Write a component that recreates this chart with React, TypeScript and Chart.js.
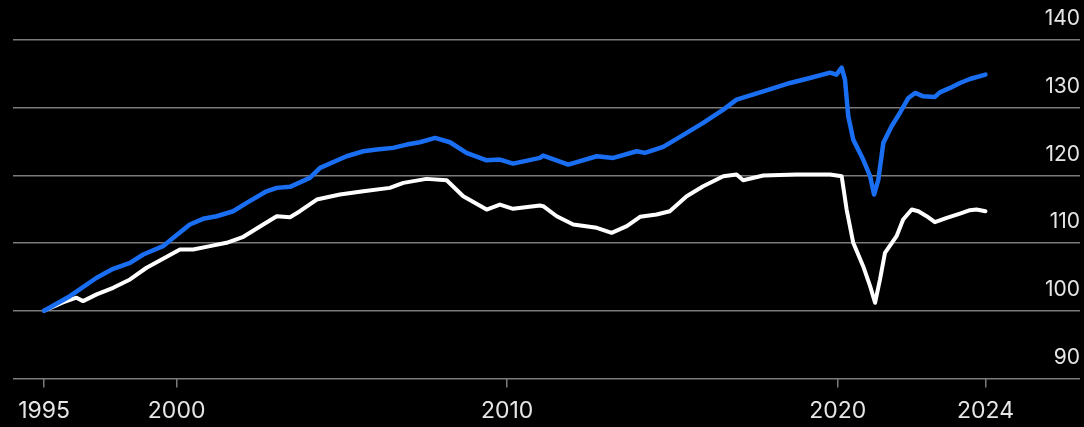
import React, { useEffect, useRef } from "react";
import { Chart, registerables } from "chart.js";

Chart.register(...registerables);

// Index, start of series = 100. Dates are decimal years.
const blueYears = [
  1995.99, 1996.77, 1997.58, 1998.08, 1998.59, 1998.99, 1999.59, 1999.9, 2000.4, 2000.8,
  2001.21, 2001.71, 2002.12, 2002.72, 2003.03, 2003.43, 2004.03, 2004.34, 2005.14, 2005.65,
  2006.05, 2006.55, 2006.96, 2007.36, 2007.82, 2008.27, 2008.77, 2009.38, 2009.78, 2010.18,
  2010.99, 2011.09, 2011.85, 2012.71, 2013.21, 2013.92, 2014.17, 2014.72, 2015.23, 2015.93,
  2016.54, 2016.94, 2017.75, 2018.56, 2019.16, 2019.77, 2019.96, 2020.12, 2020.22, 2020.32,
  2020.47, 2020.77, 2020.98, 2021.1, 2021.23, 2021.38, 2021.63, 2021.88, 2022.14, 2022.34,
  2022.59, 2022.94, 2023.09, 2023.4, 2023.7, 2024.0, 2024.47,
];
const blueValues = [
  100.0, 102.15, 104.87, 106.2, 107.08, 108.31, 109.54, 110.77, 112.74, 113.58,
  113.96, 114.7, 115.94, 117.65, 118.15, 118.3, 119.63, 121.11, 122.82, 123.56,
  123.81, 124.06, 124.55, 124.89, 125.53, 124.89, 123.32, 122.23, 122.33, 121.74,
  122.58, 122.92, 121.59, 122.82, 122.58, 123.56, 123.32, 124.21, 125.68, 127.75,
  129.71, 131.19, 132.41, 133.65, 134.39, 135.17, 134.88, 135.91, 134.14, 128.72,
  125.28, 122.33, 119.87, 117.17, 119.38, 124.8, 127.25, 129.22, 131.44, 132.18,
  131.68, 131.59, 132.27, 132.92, 133.65, 134.24, 134.88,
];

const whiteYears = [
  1995.99, 1996.56, 1996.97, 1997.17, 1997.58, 1998.08, 1998.59, 1999.09, 1999.59, 2000.1,
  2000.5, 2001.01, 2001.51, 2002.02, 2002.62, 2003.03, 2003.43, 2003.73, 2004.24, 2004.94,
  2005.65, 2006.45, 2006.86, 2007.56, 2008.17, 2008.67, 2009.38, 2009.78, 2010.18, 2010.99,
  2011.09, 2011.5, 2012.0, 2012.71, 2013.16, 2013.62, 2014.02, 2014.52, 2014.92, 2015.43,
  2015.93, 2016.54, 2016.94, 2017.14, 2017.75, 2018.76, 2019.77, 2020.12, 2020.27, 2020.47,
  2020.77, 2020.98, 2021.13, 2021.28, 2021.43, 2021.78, 2021.98, 2022.24, 2022.44, 2022.69,
  2022.94, 2023.3, 2023.7, 2024.0, 2024.2, 2024.47,
];
const whiteValues = [
  100.0, 101.23, 101.92, 101.42, 102.41, 103.39, 104.62, 106.35, 107.68, 109.05,
  109.05, 109.54, 110.04, 110.92, 112.74, 113.96, 113.82, 114.7, 116.43, 117.17,
  117.65, 118.15, 118.89, 119.48, 119.28, 116.92, 114.95, 115.69, 115.06, 115.54,
  115.44, 113.96, 112.74, 112.25, 111.51, 112.49, 113.87, 114.21, 114.7, 116.92,
  118.39, 119.87, 120.12, 119.28, 119.97, 120.12, 120.12, 119.87, 114.95, 110.04,
  106.58, 103.63, 101.18, 104.62, 108.56, 111.01, 113.48, 114.95, 114.7, 113.96,
  113.08, 113.73, 114.36, 114.85, 114.95, 114.7,
];

// Axis ticks: first and last labels mark the ends of the data
const xTickValues = [blueYears[0], 2000, 2010, 2020, blueYears[blueYears.length - 1]];
const xTickLabels = ["1995", "2000", "2010", "2020", "2024"];
const yTickValues = [90, 100, 110, 120, 130, 140];

const GRID = "#7b7b7b";
const TEXT = "#e6e6e6";

export default function App() {
  const canvasRef = useRef<HTMLCanvasElement | null>(null);

  useEffect(() => {
    document.body.style.margin = "0";
    document.body.style.background = "#000";
    const canvas = canvasRef.current;
    if (!canvas) return;

    const chart = new Chart(canvas, {
      type: "line",
      data: {
        datasets: [
          {
            data: blueYears.map((x, i) => ({ x, y: blueValues[i] })),
            borderColor: "#1a6ef2",
            borderWidth: 4.5,
            pointRadius: 0,
            tension: 0,
            borderJoinStyle: "round",
            borderCapStyle: "round",
          },
          {
            data: whiteYears.map((x, i) => ({ x, y: whiteValues[i] })),
            borderColor: "#ffffff",
            borderWidth: 4,
            pointRadius: 0,
            tension: 0,
            borderJoinStyle: "round",
            borderCapStyle: "round",
          },
        ],
      },
      options: {
        animation: false,
        responsive: false,
        maintainAspectRatio: false,
        events: [],
        layout: { padding: { left: 13, right: 4, top: 40, bottom: -8 } },
        plugins: { legend: { display: false }, tooltip: { enabled: false } },
        scales: {
          x: {
            type: "linear",
            min: 1995.05,
            max: 2027.33,
            border: { display: false },
            grid: {
              drawOnChartArea: false,
              drawTicks: true,
              tickLength: 9,
              color: GRID,
              lineWidth: 1.5,
            },
            afterBuildTicks: (scale: any) => {
              scale.ticks = xTickValues.map((value) => ({ value }));
            },
            ticks: {
              autoSkip: false,
              maxRotation: 0,
              padding: 10,
              color: TEXT,
              font: { family: "Inter", size: 23 },
              callback: (_v: any, index: number) => xTickLabels[index],
            },
          },
          y: {
            type: "linear",
            position: "right",
            min: 90,
            max: 140,
            border: { display: false },
            grid: { color: GRID, lineWidth: 1.5, drawTicks: false },
            afterBuildTicks: (scale: any) => {
              scale.ticks = yTickValues.map((value) => ({ value }));
            },
            ticks: {
              mirror: true,
              padding: 0,
              labelOffset: -21,
              color: TEXT,
              font: { family: "Inter", size: 21 },
            },
          },
        },
      },
    });

    return () => chart.destroy();
  }, []);

  return (
    <div style={{ width: 1084, height: 427, background: "#000" }}>
      <canvas ref={canvasRef} width={1084} height={427} style={{ display: "block" }} />
    </div>
  );
}
